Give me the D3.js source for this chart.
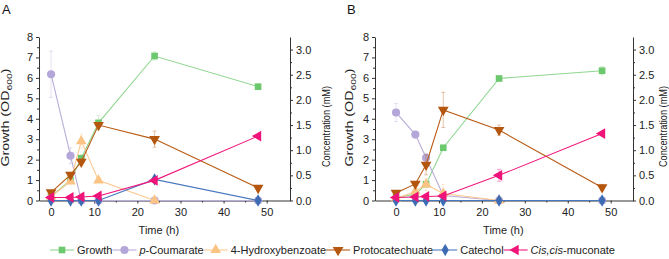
<!DOCTYPE html>
<html>
<head>
<meta charset="utf-8">
<script src="https://cdn.jsdelivr.net/npm/d3@7"></script>
<style>
  body { margin: 0; background: #fff; }
  svg { display: block; font-family: "Liberation Sans", Arial, sans-serif; }
  .tick text { font-size: 11px; fill: #222; }
  .tick line, .domain { stroke: #333; }
</style>
</head>
<body>
<div id="chart"></div>
<script>
const times= [0, 4.5, 7, 11, 24, 48];
const xTicks= [0, 10, 20, 30, 40, 50];
const leftTicks= [0, 1, 2, 3, 4, 5, 6, 7, 8];
const rightTicks= [0, 0.5, 1.0, 1.5, 2.0, 2.5, 3.0];

// panel A
const growthA= [0.2, 1.0, 2.07, 3.8, 7.07, 5.57];
const growthErrA= [0.04, 0.1, 0.15, 0.35, 0.2, 0.1];
const coumA= [2.51, 0.89, 0, 0, 0, 0];
const coumErrA= [0.46, 0.16, 0, 0, 0, 0];
const hbaA= [0.08, 0.38, 1.18, 0.4, 0, null];
const hbaErrA= [0.02, 0.05, 0.14, 0.04, 0.01, null];
const pcaA= [0.16, 0.51, 0.77, 1.5, 1.22, 0.25];
const pcaErrA= [0.02, 0.05, 0.06, 0.03, 0.16, 0.02];
const catA= [0, 0, 0, 0, 0.42, 0];
const catErrA= [0, 0, 0, 0, 0.03, 0];
const ccmA= [0.06, 0.06, 0.07, 0.09, 0.4, 1.28];
const ccmErrA= [0.01, 0.01, 0.01, 0.01, 0.03, 0.02];

// panel B
const growthB= [0.15, 0.3, 0.8, 2.58, 5.97, 6.35];
const growthErrB= [0.03, 0.05, 0.1, 0.1, 0.1, 0.2];
const coumB= [1.75, 1.31, 0.85, 0.1, 0, 0];
const coumErrB= [0.18, 0.03, 0.08, 0, 0, 0];
const hbaB= [0.04, 0.18, 0.32, 0.14, 0, null];
const hbaErrB= [0.01, 0.05, 0.12, 0.18, 0, null];
const pcaB= [0.15, 0.33, 0.71, 1.8, 1.4, 0.26];
const pcaErrB= [0.02, 0.03, 0.2, 0.35, 0.1, 0.06];
const catB= [0, 0, 0, 0, 0, 0];
const catErrB= [0, 0, 0, 0, 0, 0];
const ccmB= [0.06, 0.07, 0.08, 0.09, 0.5, 1.33];
const ccmErrB= [0.01, 0.01, 0.01, 0.01, 0.12, 0.02];

const SERIES= [
  { name: 'Growth', axis: 'L', line: '#8fd68f', fill: '#6cc86c', sym: d3.symbolSquare, rot: 0, size: 44 },
  { name: 'p-Coumarate', axis: 'R', line: '#b9acd8', fill: '#b4a6d8', sym: d3.symbolCircle, rot: 0, size: 52 },
  { name: '4-Hydroxybenzoate', axis: 'R', line: '#fdc890', fill: '#fcc484', sym: d3.symbolTriangle, rot: 0, size: 50 },
  { name: 'Protocatechuate', axis: 'R', line: '#b85a14', fill: '#b5560e', sym: d3.symbolTriangle, rot: 180, size: 50 },
  { name: 'Catechol', axis: 'R', line: '#4a78bf', fill: '#3d6cb5', sym: d3.symbolDiamond, rot: 0, size: 44 },
  { name: 'Cis,cis-muconate', axis: 'R', line: '#f0187c', fill: '#f0147a', sym: d3.symbolTriangle, rot: -90, size: 50 },
];

const panels= [
  { label: 'A', lx: 2, left: 39, right: 290, xDom: [-2.8, 55.4], lOff: 30, rOff: 40,
    vals: [growthA, coumA, hbaA, pcaA, catA, ccmA],
    errs: [growthErrA, coumErrA, hbaErrA, pcaErrA, catErrA, ccmErrA] },
  { label: 'B', lx: 347, left: 375, right: 633, xDom: [-4.9, 55.2], lOff: 22, rOff: 34,
    vals: [growthB, coumB, hbaB, pcaB, catB, ccmB],
    errs: [growthErrB, coumErrB, hbaErrB, pcaErrB, catErrB, ccmErrB] },
];

const W= 669, H= 259;
const TOP= 37, BOT= 200.5;

const svg= d3.select('#chart').append('svg')
  .attr('width', W).attr('height', H);

function drawPanel(p) {
  const xSc= d3.scaleLinear().domain(p.xDom).range([p.left, p.right]);
  const yL= d3.scaleLinear().domain([0, 8]).range([BOT, TOP]);
  const yR= d3.scaleLinear().domain([0, 3.25]).range([BOT, TOP]);
  const g= svg.append('g');

  // axes
  const xAx= g.append('g').attr('transform', `translate(0,${BOT})`)
    .call(d3.axisBottom(xSc).tickValues(xTicks).tickSize(3).tickSizeOuter(0).tickFormat(d3.format('d')));
  xAx.selectAll('.tick text').attr('dy', '0.9em');
  g.append('g').attr('transform', `translate(0,${BOT})`)
    .call(d3.axisBottom(xSc).tickValues([5, 15, 25, 35, 45]).tickSize(2).tickFormat(''))
    .call(a => a.select('.domain').remove());

  g.append('g').attr('transform', `translate(${p.left},0)`)
    .call(d3.axisLeft(yL).tickValues(leftTicks).tickSize(3).tickSizeOuter(0).tickFormat(d3.format('d')));
  g.append('g').attr('transform', `translate(${p.left},0)`)
    .call(d3.axisLeft(yL).tickValues(d3.range(0.5, 8, 1)).tickSize(2).tickFormat(''))
    .call(a => a.select('.domain').remove());

  g.append('g').attr('transform', `translate(${p.right},0)`)
    .call(d3.axisRight(yR).tickValues(rightTicks).tickSize(3).tickSizeOuter(0).tickFormat(d3.format('.1f')));
  g.append('g').attr('transform', `translate(${p.right},0)`)
    .call(d3.axisRight(yR).tickValues(d3.range(0.25, 3.25, 0.5)).tickSize(2).tickFormat(''))
    .call(a => a.select('.domain').remove());

  g.selectAll('.domain').attr('stroke-width', 1);

  // titles
  g.append('text')
    .attr('x', (xSc(0)+xSc(50))/2).attr('y', 234)
    .attr('text-anchor', 'middle').attr('font-size', 11).attr('fill', '#222')
    .text('Time (h)');

  const lt= g.append('text')
    .attr('transform', `translate(${p.left-p.lOff},117.5) rotate(-90)`)
    .attr('text-anchor', 'middle').attr('font-size', 11).attr('fill', '#222')
    .attr('textLength', 98).attr('lengthAdjust', 'spacingAndGlyphs');
  lt.append('tspan').text('Growth (OD');
  lt.append('tspan').attr('font-size', 8).attr('dy', 3).text('600');
  lt.append('tspan').attr('dy', -3).text(')');

  g.append('text')
    .attr('transform', `translate(${p.right+p.rOff},126.5) rotate(-90)`)
    .attr('text-anchor', 'middle').attr('font-size', 11).attr('fill', '#222')
    .attr('textLength', 81).attr('lengthAdjust', 'spacingAndGlyphs')
    .text('Concentration (mM)');

  g.append('text')
    .attr('x', p.lx).attr('y', 14)
    .attr('font-size', 13).attr('fill', '#111')
    .text(p.label);

  // series
  SERIES.forEach((s, i) => {
    const ySc= s.axis === 'L' ? yL : yR;
    const pts= times.map((t, j) => ({ t, v: p.vals[i][j], e: p.errs[i][j] }))
      .filter(d => d.v != null);

    // error bars
    const eb= g.append('g').attr('stroke', s.line).attr('stroke-opacity', 0.45).attr('stroke-width', 0.8);
    pts.filter(d => d.e > 0).forEach(d => {
      const x= xSc(d.t);
      const y1= ySc(d.v+d.e), y2= ySc(Math.max(0, d.v-d.e));
      eb.append('line').attr('x1', x).attr('x2', x).attr('y1', y1).attr('y2', y2);
      eb.append('line').attr('x1', x-2).attr('x2', x+2).attr('y1', y1).attr('y2', y1);
      eb.append('line').attr('x1', x-2).attr('x2', x+2).attr('y1', y2).attr('y2', y2);
    });

    g.append('path')
      .attr('d', d3.line().x(d => xSc(d.t)).y(d => ySc(d.v))(pts))
      .attr('fill', 'none').attr('stroke', s.line).attr('stroke-width', 1.1);

    g.selectAll(null).data(pts).join('path')
      .attr('d', d3.symbol(s.sym, s.size)())
      .attr('transform', d => `translate(${xSc(d.t)},${ySc(d.v)}) rotate(${s.rot})`)
      .attr('fill', s.fill);
  });
}

panels.forEach(drawPanel);

// legend
const lg= svg.append('g').attr('font-size', 11).attr('fill', '#222');
let lx= 50;
const ly= 250;
SERIES.forEach(s => {
  const lineW= 24;
  lg.append('line')
    .attr('x1', lx).attr('x2', lx+lineW).attr('y1', ly).attr('y2', ly)
    .attr('stroke', s.line).attr('stroke-width', 1.1);
  lg.append('path')
    .attr('d', d3.symbol(s.sym, s.size)())
    .attr('transform', `translate(${lx+lineW/2},${ly}) rotate(${s.rot})`)
    .attr('fill', s.fill);
  const t= lg.append('text').attr('x', lx+lineW+3).attr('y', ly+4);
  if (s.name === 'p-Coumarate') {
    t.append('tspan').attr('font-style', 'italic').text('p');
    t.append('tspan').text('-Coumarate');
  } else if (s.name === 'Cis,cis-muconate') {
    t.append('tspan').attr('font-style', 'italic').text('Cis,cis');
    t.append('tspan').text('-muconate');
  } else {
    t.text(s.name);
  }
  lx+= lineW+3+t.node().getComputedTextLength();
});
</script>
</body>
</html>
